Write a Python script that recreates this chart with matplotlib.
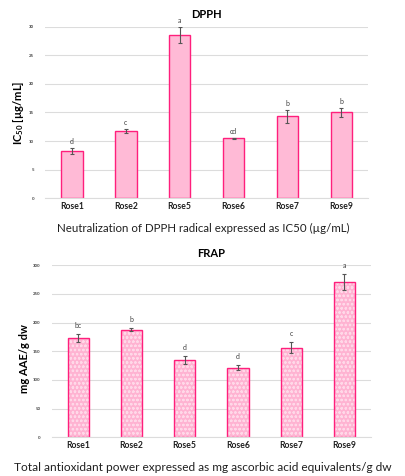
import matplotlib
matplotlib.use("Agg")
import matplotlib.pyplot as plt

categories = ["Rose1", "Rose2", "Rose5", "Rose6", "Rose7", "Rose9"]

dpph_values = [8.3, 11.8, 28.5, 10.5, 14.3, 15.0]
dpph_errors = [0.55, 0.3, 1.4, 0.1, 1.1, 0.8]
dpph_letters = ["d", "c", "a", "cd", "b", "b"]
dpph_yticks = [0, 5, 10, 15, 20, 25, 30]

frap_values = [172.7, 187.8, 135.0, 121.5, 156.5, 270.3]
frap_errors = [7.0, 2.0, 6.4, 4.0, 9.0, 14.0]
frap_letters = ["bc", "b", "d", "d", "c", "a"]
frap_yticks = [0, 50, 100, 150, 200, 250, 300]

FILL = "#FFBAD6"
EDGE = "#FF1F7C"
GRID = "#DCDCDC"
FONT = ["Lato", "DejaVu Sans"]
plt.rcParams["font.family"] = FONT
plt.rcParams["mathtext.fontset"] = "custom"
plt.rcParams["mathtext.bf"] = "Lato:bold"
plt.rcParams["mathtext.rm"] = "Lato"

fig = plt.figure(figsize=(4.06, 4.76), dpi=100)


def style(ax, yticks, title, ylabel, xlabel, xlabel_y, xlabel_size, ylabel_xy):
    ax.set_ylim(yticks[0], yticks[-1])
    ax.set_xlim(-0.5, 5.5)
    ax.set_yticks(yticks)
    ax.set_yticklabels([str(t) for t in yticks], fontsize=3.2, color="#404040", fontweight="bold")
    ax.set_xticks(range(len(categories)))
    ax.set_xticklabels(categories, fontsize=6.2, fontweight="bold", color="#202020")
    ax.tick_params(axis="both", length=0, pad=3)
    ax.tick_params(axis="y", pad=8)
    for s in ["top", "right", "left"]:
        ax.spines[s].set_visible(False)
    ax.spines["bottom"].set_color(GRID)
    ax.spines["bottom"].set_linewidth(0.8)
    ax.grid(axis="y", color=GRID, linewidth=0.8)
    ax.set_axisbelow(True)
    ax.set_title(title, fontsize=8, fontweight="bold", pad=6)
    ax.set_ylabel(ylabel, fontsize=8, fontweight="bold")
    ax.yaxis.set_label_coords(ylabel_xy[0], ylabel_xy[1], transform=fig.transFigure)
    fig.text(0.5, xlabel_y, xlabel, fontsize=xlabel_size, ha="center", va="center", color="#202020")


# DPPH
ax1 = fig.add_axes([0.111, 0.5834, 0.796, 0.3606])
x = range(len(categories))
ax1.bar(x, dpph_values, width=0.4, color=FILL, edgecolor=EDGE, linewidth=1.0, zorder=2)
ax1.errorbar(x, dpph_values, yerr=dpph_errors, fmt="none", ecolor="#555555",
             elinewidth=0.8, capsize=1.5, capthick=0.8, zorder=3)
for xi, v, e, t in zip(x, dpph_values, dpph_errors, dpph_letters):
    ax1.annotate(t, (xi, v + e), xytext=(0, 2), textcoords="offset points",
                 ha="center", va="bottom", fontsize=5, color="#404040")
style(ax1, dpph_yticks, "DPPH", r"IC$_{\mathbf{50}}$ [µg/mL]",
      "Neutralization of DPPH radical expressed as IC50 (µg/mL)", 1 - 228.5 / 476, 8.3,
      (25.5 / 406, 1 - 113 / 476))

# FRAP
ax2 = fig.add_axes([0.127, 0.0813, 0.787, 0.3613])
ax2.bar(x, frap_values, width=0.4, color="#FFB3D2", edgecolor="none", linewidth=0, zorder=2)
plt.rcParams["hatch.linewidth"] = 0.6
ax2.bar(x, frap_values, width=0.4, color="none", edgecolor="#FFD8E8", linewidth=0,
        hatch="oooo", zorder=2.1)
ax2.bar(x, frap_values, width=0.4, color="none", edgecolor=EDGE, linewidth=1.0, zorder=2.2)
ax2.errorbar(x, frap_values, yerr=frap_errors, fmt="none", ecolor="#555555",
             elinewidth=0.8, capsize=1.5, capthick=0.8, zorder=3)
for xi, v, e, t in zip(x, frap_values, frap_errors, frap_letters):
    ax2.annotate(t, (xi, v + e), xytext=(0, 4), textcoords="offset points",
                 ha="center", va="bottom", fontsize=5, color="#404040")
style(ax2, frap_yticks, "FRAP", "mg AAE/g dw",
      "Total antioxidant power expressed as mg ascorbic acid equivalents/g dw", 1 - 467.5 / 476,
      8.6, (30.0 / 406, 1 - 359 / 476))

fig.savefig("out.png", dpi=100, facecolor="white")
